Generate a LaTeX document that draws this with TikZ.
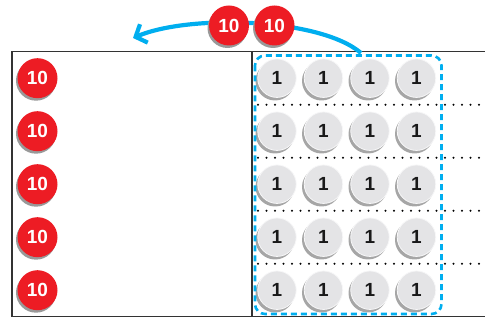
\documentclass[tikz,border=0pt]{standalone}
\usepackage{fontspec}
\setmainfont{Liberation Sans}
\usetikzlibrary{arrows.meta}
\definecolor{tenred}{RGB}{237,28,36}
\definecolor{onegray}{RGB}{228,228,230}
\definecolor{arcblue}{RGB}{0,174,239}
\tikzset{
  x=1pt,y=-1pt,
  tendisk/.style={circle,fill=tenred,minimum size=40pt,inner sep=0pt,text=white,font=\bfseries\fontsize{19}{19}\selectfont},
  onedisk/.style={circle,fill=onegray,draw=white!70!onegray,line width=0.8pt,minimum size=38.5pt,inner sep=0pt,text=black!90,font=\bfseries\fontsize{19}{19}\selectfont},
  diskshadow/.style={fill=black!40},
  coinshadow/.style={fill=black!35},
  frameline/.style={line width=1.2pt,draw=black!80},
  rowdots/.style={line width=2.3pt,dash pattern=on 0pt off 8.5pt,line cap=round},
  groupbox/.style={draw=arcblue,line width=2.6pt,dash pattern=on 6pt off 4pt,rounded corners=10pt},
  movearc/.style={draw=arcblue,line width=4.2pt,-{Straight Barb[length=9pt,width=20pt]}}
}
\begin{document}
\begin{tikzpicture}
\useasboundingbox (0,0) rectangle (485,320);
% frame
\coordinate (tl) at (12,51.7);
\coordinate (tr) at (485,51.7);
\coordinate (bl) at (12,316.7);
\coordinate (br) at (485,316.7);
\coordinate (mt) at (252,51.7);
\coordinate (mb) at (252,316.7);
\draw[frameline] (tr) -- (tl) -- (bl) -- (br);
\draw[frameline] (mt) -- (mb);
% dotted separators
\foreach \i/\y in {1/104.7,2/157.7,3/210.7,4/263.7}{
  \coordinate (ds\i) at (258,\y);
  \coordinate (de\i) at (485,\y);
  \draw[rowdots] (ds\i) -- (de\i);
}
% disks
\foreach \r/\y in {1/78.2,2/131.2,3/184.2,4/237.2,5/290.2}{
  \fill[diskshadow] (36,\y+2.5) circle (20pt);
  \node[tendisk] (t\r) at (37.5,\y) {10};
  \foreach \c/\x in {1/277,2/323.5,3/370,4/416.5}{
    \fill[coinshadow] (\x-2,\y+2.8) circle (19.5pt);
    \node[onedisk] (o\r\c) at (\x,\y) {1};
  }
}
% group box
\coordinate (g1) at (255,55.5);
\coordinate (g2) at (441.5,314);
\draw[groupbox] (g1) rectangle (g2);
% arc
\coordinate (as) at (361,53);
\coordinate (ae) at (133,38);
\draw[movearc] (as) .. controls (320,18) and (190,14) .. (ae);
% moved tens
\fill[diskshadow] (227.5,28) circle (20pt);
\node[tendisk] (m1) at (229,25.5) {10};
\fill[diskshadow] (273,28) circle (20pt);
\node[tendisk] (m2) at (274.5,25.5) {10};
\end{tikzpicture}
\end{document}
